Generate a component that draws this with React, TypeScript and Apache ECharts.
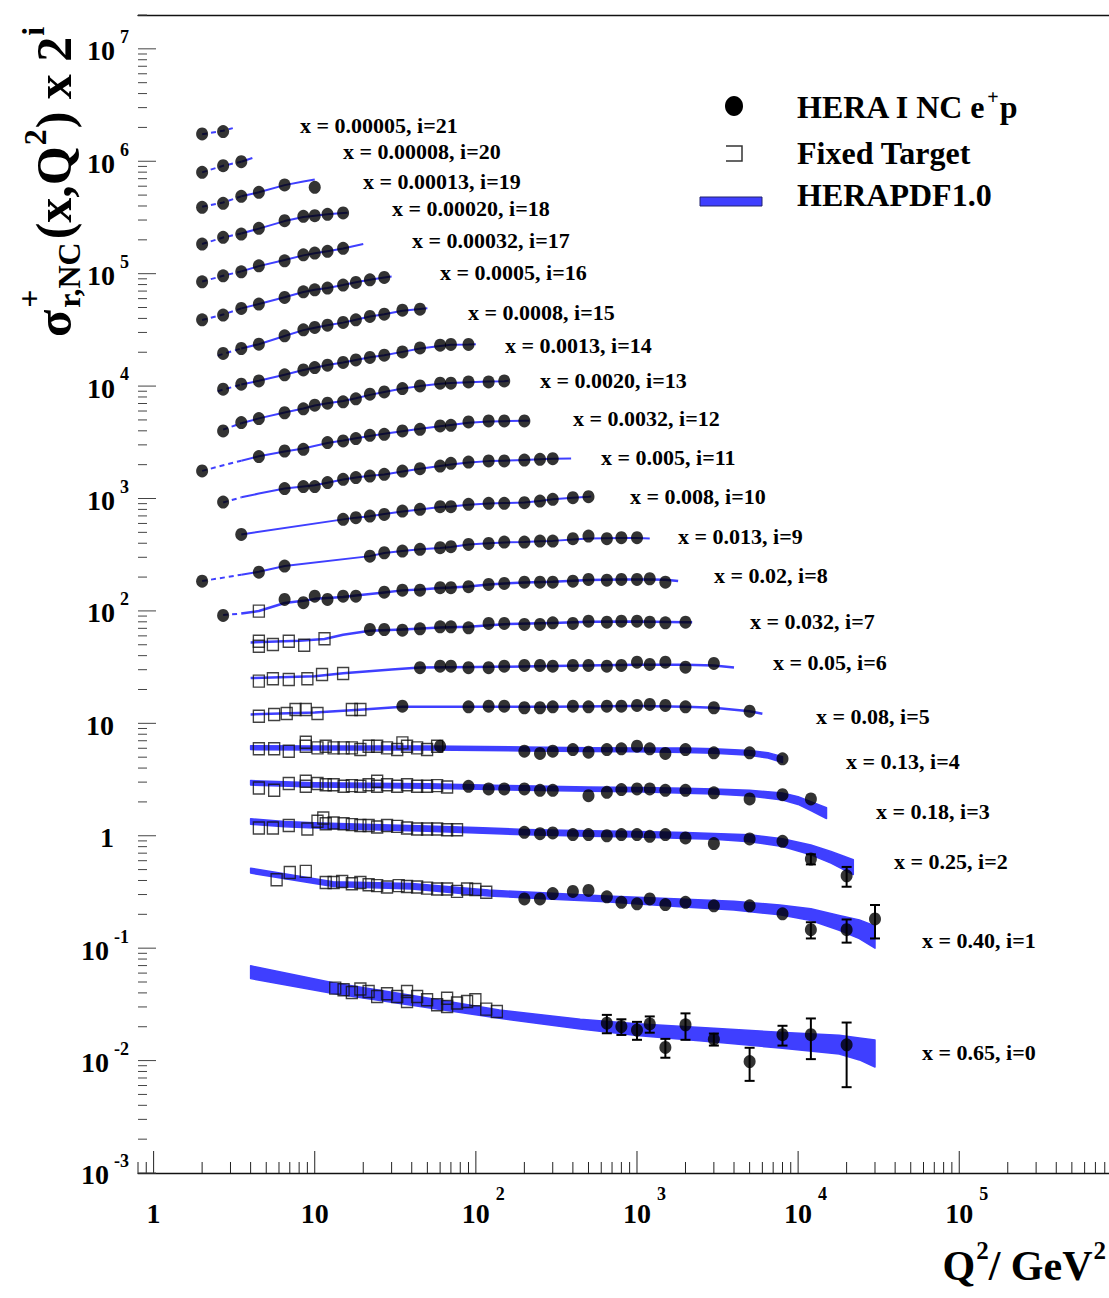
import React, { useEffect, useRef } from 'react';
import * as echarts from 'echarts';

const WIDTH = 1109;
const HEIGHT = 1298;
const SERIF = '"Liberation Serif", "Times New Roman", serif';
const PDF_BLUE = '#3f3fff';
const INK = '#000';

// Axis ranges (Q^2 in GeV^2, sigma_r x 2^i)
const Q2_LO = 0.8;
const Q2_HI = 8.5e5;
const SIG_LO = 1e-3;
const SIG_HI = 2e7;
// fit starts here; the curves below it are extrapolations (dashed)
const Q2_FIT_MIN = 3.5;

// bins, indexed by i (0 .. 21)
const BIN_X = [
  '0.65', '0.40', '0.25', '0.18', '0.13', '0.08', '0.05', '0.032', '0.02', '0.013', '0.008',
  '0.005', '0.0032', '0.0020', '0.0013', '0.0008', '0.0005', '0.00032', '0.00020', '0.00013',
  '0.00008', '0.00005',
];

// HERA I NC e+p reduced cross sections
const HERA_Q2: number[][] = [
  [650, 800, 1000, 1200, 1500, 2000, 3000, 5000, 8000, 12000, 20000],
  [200, 250, 300, 400, 500, 650, 800, 1000, 1200, 1500, 2000, 3000, 5000, 8000, 12000, 20000, 30000],
  [200, 250, 300, 400, 500, 650, 800, 1000, 1200, 1500, 2000, 3000, 5000, 8000, 12000, 20000],
  [90, 120, 150, 200, 250, 300, 500, 650, 800, 1000, 1200, 1500, 2000, 3000, 5000, 8000, 12000],
  [60, 200, 250, 300, 400, 500, 650, 800, 1000, 1200, 1500, 2000, 3000, 5000, 8000],
  [35, 90, 120, 150, 200, 250, 300, 400, 500, 650, 800, 1000, 1200, 1500, 2000, 3000, 5000],
  [45, 60, 70, 90, 120, 150, 200, 250, 300, 400, 500, 650, 800, 1000, 1200, 1500, 2000, 3000],
  [22, 27, 35, 45, 60, 70, 90, 120, 150, 200, 250, 300, 400, 500, 650, 800, 1000, 1200, 1500, 2000],
  [2.7, 6.5, 8.5, 10, 12, 15, 18, 27, 35, 45, 60, 70, 90, 120, 150, 200, 250, 300, 400, 500, 650, 800, 1000, 1200, 1500],
  [2, 4.5, 6.5, 22, 27, 35, 45, 60, 70, 90, 120, 150, 200, 250, 300, 400, 500, 650, 800, 1000],
  [3.5, 15, 18, 22, 27, 35, 45, 60, 70, 90, 120, 150, 200, 250, 300, 400, 500],
  [2.7, 6.5, 8.5, 10, 12, 15, 18, 22, 27, 35, 45, 60, 70, 90, 120, 150, 200, 250, 300],
  [2, 4.5, 6.5, 8.5, 12, 15, 18, 22, 27, 35, 45, 60, 70, 90, 120, 150, 200],
  [2.7, 3.5, 4.5, 6.5, 8.5, 10, 12, 15, 18, 22, 27, 35, 45, 60, 70, 90, 120, 150],
  [2.7, 3.5, 4.5, 6.5, 8.5, 10, 12, 15, 18, 22, 27, 35, 45, 60, 70, 90],
  [2.7, 3.5, 4.5, 6.5, 8.5, 10, 12, 15, 18, 22, 27, 35, 45],
  [2, 2.7, 3.5, 4.5, 6.5, 8.5, 10, 12, 15, 18, 22, 27],
  [2, 2.7, 3.5, 4.5, 6.5, 8.5, 10, 12, 15],
  [2, 2.7, 3.5, 4.5, 6.5, 8.5, 10, 12, 15],
  [2, 2.7, 3.5, 4.5, 6.5, 10],
  [2, 2.7, 3.5],
  [2, 2.7],
];

const HERA_SIGMA: number[][] = [
  [0.0215, 0.0201, 0.0187, 0.0212, 0.0131, 0.0208, 0.0155, 0.0098, 0.017, 0.017, 0.0138],
  [0.137, 0.137, 0.153, 0.16, 0.163, 0.143, 0.128, 0.124, 0.137, 0.122, 0.128, 0.119, 0.119, 0.101, 0.073, 0.073, 0.091],
  [0.268, 0.261, 0.265, 0.256, 0.256, 0.25, 0.256, 0.256, 0.247, 0.256, 0.239, 0.213, 0.234, 0.223, 0.155, 0.11],
  [0.344, 0.326, 0.326, 0.326, 0.317, 0.317, 0.284, 0.304, 0.322, 0.326, 0.326, 0.317, 0.317, 0.301, 0.266, 0.29, 0.266],
  [0.391, 0.353, 0.337, 0.353, 0.365, 0.346, 0.365, 0.371, 0.391, 0.371, 0.337, 0.365, 0.342, 0.342, 0.302],
  [0.444, 0.438, 0.444, 0.444, 0.43, 0.43, 0.438, 0.444, 0.438, 0.444, 0.444, 0.451, 0.46, 0.451, 0.438, 0.43, 0.401],
  [0.488, 0.504, 0.504, 0.488, 0.488, 0.504, 0.511, 0.511, 0.504, 0.511, 0.511, 0.504, 0.511, 0.547, 0.522, 0.547, 0.494, 0.533],
  [0.534, 0.534, 0.526, 0.541, 0.564, 0.564, 0.553, 0.604, 0.604, 0.592, 0.592, 0.613, 0.604, 0.633, 0.62, 0.633, 0.633, 0.62, 0.613, 0.62],
  [0.356, 0.494, 0.462, 0.528, 0.494, 0.528, 0.528, 0.573, 0.598, 0.598, 0.628, 0.628, 0.641, 0.672, 0.686, 0.704, 0.704, 0.704, 0.719, 0.744, 0.734, 0.744, 0.744, 0.755, 0.704],
  [0.359, 0.432, 0.489, 0.6, 0.643, 0.665, 0.689, 0.713, 0.728, 0.763, 0.779, 0.8, 0.8, 0.816, 0.816, 0.857, 0.904, 0.857, 0.875, 0.875],
  [0.468, 0.637, 0.659, 0.681, 0.705, 0.755, 0.782, 0.826, 0.826, 0.866, 0.884, 0.884, 0.897, 0.927, 0.96, 0.994, 1.014],
  [0.454, 0.598, 0.623, 0.623, 0.676, 0.723, 0.749, 0.774, 0.801, 0.857, 0.9, 0.95, 1.004, 1.031, 1.053, 1.053, 1.074, 1.09, 1.105],
  [0.429, 0.576, 0.646, 0.669, 0.768, 0.793, 0.833, 0.891, 0.91, 0.974, 1.008, 1.079, 1.094, 1.171, 1.195, 1.195, 1.195],
  [0.487, 0.578, 0.628, 0.707, 0.766, 0.825, 0.859, 0.885, 0.94, 1.033, 1.083, 1.161, 1.225, 1.295, 1.295, 1.33, 1.33, 1.357],
  [0.573, 0.634, 0.679, 0.768, 0.85, 0.893, 0.936, 0.99, 1.044, 1.097, 1.15, 1.23, 1.335, 1.41, 1.431, 1.431],
  [0.595, 0.659, 0.72, 0.854, 0.966, 1.014, 1.063, 1.124, 1.186, 1.271, 1.332, 1.446, 1.476],
  [0.593, 0.653, 0.749, 0.818, 0.938, 1.053, 1.097, 1.136, 1.208, 1.276, 1.346, 1.414],
  [0.646, 0.731, 0.793, 0.897, 0.994, 1.124, 1.164, 1.205, 1.282],
  [0.7, 0.803, 0.859, 0.966, 1.129, 1.235, 1.25, 1.287, 1.322],
  [0.743, 0.806, 0.931, 1.01, 1.173, 1.119],
  [0.761, 0.872, 0.946],
  [0.835, 0.875],
];

// total uncertainties where they stick out of the marker (0 = hidden)
const HERA_ERR: number[][] = [
  [0.004, 0.0032, 0.0034, 0.0035, 0.0025, 0.0055, 0.0019, 0.0032, 0.0034, 0.0067, 0.008],
  [0, 0, 0, 0, 0, 0, 0, 0, 0, 0, 0, 0, 0, 0, 0.012, 0.017, 0.03],
  [0, 0, 0, 0, 0, 0, 0, 0, 0, 0, 0, 0, 0, 0, 0.016, 0.022],
];

// fixed-target measurements
const FIXED_Q2: number[][] = [
  [13.4, 15.1, 17, 19.2, 21.6, 24.4, 28.1, 32.5, 37.4, 37.4, 43.2, 49.8, 57.5, 66.3, 66.3, 76.4, 88.2, 99.3, 116, 135],
  [5.8, 7, 8.8, 11.7, 13.1, 14.8, 17, 19.2, 21.6, 24.4, 28.1, 33.2, 37.4, 43.2, 49.8, 57.5, 66.3, 76.4, 88.2, 99.3, 116],
  [4.5, 5.5, 6.9, 9, 10.4, 11.3, 11.7, 13.1, 15.1, 17, 19.2, 21.6, 24.4, 28.1, 32.5, 37.4, 43.2, 49.8, 57.5, 66.3, 76.4],
  [4.5, 5.6, 6.9, 8.8, 8.8, 10.4, 11.7, 13.1, 15.1, 17, 19.2, 21.6, 24.4, 24.4, 28.1, 32.5, 37.4, 43.2, 49.8, 57.5, 66.3],
  [4.5, 5.6, 6.9, 8.8, 8.8, 10.4, 11.7, 13.1, 15.1, 17, 19.2, 21.6, 24.4, 28.1, 32.5, 35, 37.4, 43.2, 49.8, 57.5],
  [4.5, 5.6, 6.7, 7.6, 8.8, 10.4, 17, 19.2],
  [4.5, 5.5, 6.9, 9, 11.1, 15],
  [4.5, 4.5, 5.5, 6.9, 8.6, 11.5],
  [4.5],
];

const FIXED_SIGMA: number[][] = [
  [0.0441, 0.0427, 0.0404, 0.0433, 0.0412, 0.0371, 0.0393, 0.0371, 0.0412, 0.0336, 0.0371, 0.0348, 0.0314, 0.0359, 0.0303, 0.0325, 0.0336, 0.0348, 0.0287, 0.0273],
  [0.203, 0.236, 0.241, 0.192, 0.192, 0.196, 0.187, 0.192, 0.183, 0.18, 0.175, 0.18, 0.177, 0.175, 0.171, 0.168, 0.168, 0.16, 0.168, 0.166, 0.157],
  [0.293, 0.293, 0.308, 0.287, 0.336, 0.36, 0.32, 0.325, 0.32, 0.314, 0.308, 0.308, 0.299, 0.308, 0.303, 0.293, 0.287, 0.287, 0.287, 0.283, 0.283],
  [0.333, 0.317, 0.364, 0.381, 0.344, 0.364, 0.356, 0.356, 0.344, 0.349, 0.344, 0.356, 0.344, 0.381, 0.356, 0.344, 0.356, 0.344, 0.344, 0.349, 0.34],
  [0.371, 0.371, 0.353, 0.391, 0.424, 0.378, 0.391, 0.378, 0.378, 0.378, 0.365, 0.391, 0.391, 0.378, 0.365, 0.419, 0.391, 0.378, 0.365, 0.391],
  [0.362, 0.375, 0.382, 0.415, 0.415, 0.382, 0.415, 0.415],
  [0.371, 0.389, 0.384, 0.389, 0.425, 0.434],
  [0.379, 0.42, 0.393, 0.42, 0.387, 0.441],
  [0.389],
];

// HERAPDF1.0 prediction: central value and relative half-width of the band
const PDF_Q2: number[][] = [
  [4, 13, 45, 140, 445, 1000, 3000, 7700, 18000, 24000, 30000],
  [4, 13, 40, 120, 300, 600, 1850, 4000, 7700, 12000, 18000, 24000, 30000],
  [4, 6.5, 10, 20, 50, 100, 200, 500, 1000, 2000, 3000, 5000, 8000, 12000, 16000, 22000],
  [4, 10, 50, 150, 500, 1000, 2000, 3000, 5000, 8000, 10000, 12000, 15000],
  [4, 10, 50, 200, 500, 1000, 2000, 3000, 5000, 6500, 8000],
  [4, 10, 20, 35, 100, 300, 1000, 2000, 3000, 5000, 6000],
  [4, 10, 15, 30, 45, 100, 300, 1000, 2000, 3000, 4000],
  [4, 8, 11.5, 15, 22, 35, 60, 90, 150, 300, 500, 1000, 2000, 2200],
  [2.7, 3.5, 4.5, 6.5, 8.5, 10, 12, 15, 18, 27, 35, 45, 60, 70, 90, 120, 150, 200, 300, 500, 800, 1200, 1500, 1800],
  [2, 3.5, 4.5, 6.5, 22, 27, 35, 45, 60, 70, 90, 120, 150, 200, 250, 300, 400, 500, 650, 800, 1000, 1200],
  [3.5, 15, 18, 22, 27, 35, 45, 60, 70, 90, 120, 150, 200, 250, 300, 400, 500, 520],
  [2.7, 3.5, 4.5, 6.5, 8.5, 10, 12, 15, 18, 22, 27, 35, 45, 60, 70, 90, 120, 150, 200, 250, 300, 390],
  [2, 3.5, 4.5, 6.5, 8.5, 12, 15, 18, 22, 27, 35, 45, 60, 70, 90, 120, 150, 200, 215],
  [2.7, 3.5, 4.5, 6.5, 8.5, 10, 12, 15, 18, 22, 27, 35, 45, 60, 70, 90, 120, 150, 160],
  [2.5, 3.5, 4.5, 6.5, 8.5, 10, 12, 15, 18, 22, 27, 35, 45, 60, 70, 90, 100],
  [2.5, 3.5, 4.5, 6.5, 8.5, 10, 12, 15, 18, 22, 27, 35, 45, 50],
  [2, 2.7, 3.5, 4.5, 6.5, 8.5, 10, 12, 15, 18, 22, 27, 30],
  [2, 2.7, 3.5, 4.5, 6.5, 8.5, 10, 12, 15, 20],
  [2, 2.7, 3.5, 4.5, 6.5, 8.5, 10, 12, 15, 16],
  [2, 2.7, 3.5, 4.5, 6.5, 8.5, 10],
  [2, 2.7, 3.5, 4.1],
  [2, 2.7, 3.1],
];

const PDF_SIGMA: number[][] = [
  [0.0616, 0.0444, 0.0336, 0.026, 0.0212, 0.019, 0.017, 0.0154, 0.0141, 0.013, 0.012],
  [0.245, 0.186, 0.178, 0.155, 0.145, 0.138, 0.127, 0.12, 0.11, 0.1, 0.085, 0.075, 0.0645],
  [0.335, 0.318, 0.31, 0.3, 0.29, 0.28, 0.27, 0.262, 0.258, 0.252, 0.247, 0.238, 0.218, 0.188, 0.162, 0.133],
  [0.37, 0.355, 0.347, 0.335, 0.325, 0.322, 0.315, 0.31, 0.3, 0.28, 0.258, 0.23, 0.2],
  [0.38, 0.378, 0.378, 0.37, 0.365, 0.363, 0.36, 0.355, 0.342, 0.325, 0.298],
  [0.375, 0.39, 0.415, 0.44, 0.44, 0.44, 0.445, 0.44, 0.43, 0.4, 0.38],
  [0.395, 0.41, 0.435, 0.47, 0.49, 0.495, 0.505, 0.52, 0.52, 0.51, 0.49],
  [0.41, 0.425, 0.44, 0.48, 0.52, 0.535, 0.555, 0.565, 0.595, 0.61, 0.625, 0.63, 0.62, 0.618],
  [0.36, 0.37, 0.39, 0.46, 0.48, 0.5, 0.51, 0.52, 0.535, 0.57, 0.595, 0.605, 0.625, 0.63, 0.645, 0.67, 0.685, 0.7, 0.71, 0.735, 0.745, 0.745, 0.74, 0.72],
  [0.36, 0.41, 0.435, 0.49, 0.6, 0.64, 0.665, 0.69, 0.71, 0.725, 0.76, 0.78, 0.795, 0.8, 0.815, 0.82, 0.845, 0.86, 0.865, 0.87, 0.87, 0.86],
  [0.468, 0.637, 0.66, 0.68, 0.71, 0.75, 0.78, 0.82, 0.83, 0.86, 0.88, 0.89, 0.9, 0.93, 0.96, 0.99, 1.01, 1.015],
  [0.45, 0.5, 0.54, 0.6, 0.625, 0.64, 0.675, 0.72, 0.75, 0.78, 0.8, 0.85, 0.9, 0.95, 0.98, 1.02, 1.05, 1.06, 1.075, 1.09, 1.1, 1.11],
  [0.43, 0.53, 0.58, 0.64, 0.68, 0.76, 0.8, 0.84, 0.88, 0.92, 0.97, 1.02, 1.07, 1.1, 1.15, 1.18, 1.19, 1.2, 1.2],
  [0.5, 0.57, 0.63, 0.71, 0.77, 0.82, 0.86, 0.9, 0.95, 1.02, 1.08, 1.16, 1.22, 1.28, 1.3, 1.32, 1.34, 1.35, 1.36],
  [0.55, 0.63, 0.68, 0.77, 0.85, 0.89, 0.94, 0.99, 1.04, 1.1, 1.15, 1.23, 1.32, 1.39, 1.42, 1.43, 1.44],
  [0.57, 0.66, 0.72, 0.85, 0.96, 1.01, 1.06, 1.12, 1.19, 1.27, 1.33, 1.43, 1.48, 1.5],
  [0.59, 0.66, 0.75, 0.82, 0.94, 1.05, 1.1, 1.14, 1.21, 1.28, 1.35, 1.41, 1.44],
  [0.65, 0.73, 0.8, 0.89, 1.01, 1.11, 1.16, 1.21, 1.28, 1.4],
  [0.7, 0.8, 0.87, 0.96, 1.12, 1.22, 1.25, 1.29, 1.32, 1.33],
  [0.75, 0.82, 0.93, 1.01, 1.17, 1.26, 1.31],
  [0.76, 0.87, 0.945, 1.02],
  [0.83, 0.89, 0.94],
];

const PDF_UNC: number[][] = [
  [0.13, 0.11, 0.1, 0.085, 0.1, 0.12, 0.14, 0.16, 0.19, 0.22, 0.27],
  [0.05, 0.05, 0.055, 0.06, 0.06, 0.06, 0.08, 0.09, 0.1, 0.12, 0.15, 0.19, 0.225],
  [0.055, 0.055, 0.055, 0.055, 0.055, 0.055, 0.055, 0.055, 0.055, 0.06, 0.06, 0.07, 0.08, 0.1, 0.12, 0.15],
  [0.045, 0.045, 0.045, 0.045, 0.045, 0.045, 0.05, 0.05, 0.06, 0.07, 0.08, 0.09, 0.11],
  [0.04, 0.04, 0.04, 0.04, 0.04, 0.04, 0.045, 0.045, 0.05, 0.055, 0.06],
];

// where each bin caption sits: [left px, middle px]
const CAPTION_POS: number[][] = [
  [922, 1052], [922, 940], [894, 861], [876, 811], [846, 761], [816, 716], [773, 662], [750, 621],
  [714, 575], [678, 536], [630, 496], [601, 457], [573, 418], [540, 380], [505, 345], [468, 312],
  [440, 272], [412, 240], [392, 208], [363, 181], [343, 151], [300, 125],
];

const ROWS = BIN_X.map((_, i) => i);
const X_LABEL_EXP = [0, 1, 2, 3, 4, 5];
const Y_LABEL_EXP = [-3, -2, -1, 0, 1, 2, 3, 4, 5, 6, 7];

let measureCtx: CanvasRenderingContext2D | null = null;
function textWidth(s: string, size: number): number {
  if (!measureCtx) measureCtx = document.createElement('canvas').getContext('2d');
  if (!measureCtx) return s.length * size * 0.5;
  measureCtx.font = `bold ${size}px ${SERIF}`;
  return measureCtx.measureText(s).width;
}

// bold serif text placed by its alphabetic baseline
function T(x: number, baseline: number, text: string, size: number, align = 'left', fill = INK): any {
  return {
    type: 'text',
    x,
    y: baseline - 0.34 * size,
    silent: true,
    style: {
      text,
      fontSize: size,
      fontWeight: 'bold',
      fontFamily: SERIF,
      fill,
      textAlign: align,
      align,
      textVerticalAlign: 'middle',
      verticalAlign: 'middle',
    },
  };
}

function renderPdf(_params: any, api: any) {
  const i = api.value(2);
  const f = Math.pow(2, i);
  const q = PDF_Q2[i];
  const s = PDF_SIGMA[i];
  const u = PDF_UNC[i] || [];
  const dashed: number[][] = [];
  const up: number[][] = [];
  const lo: number[][] = [];
  q.forEach((qq, k) => {
    const v = s[k] * f;
    const r = u[k] || 0;
    if (qq <= Q2_FIT_MIN) dashed.push(api.coord([qq, v]));
    if (qq >= Q2_FIT_MIN) {
      up.push(api.coord([qq, v * (1 + r)]));
      lo.push(api.coord([qq, v * (1 - r)]));
    }
  });
  const children: any[] = [];
  const lw = i >= 5 && i <= 8 ? 2.5 : 2;
  if (dashed.length > 1) {
    children.push({
      type: 'polyline',
      shape: { points: dashed },
      style: { stroke: PDF_BLUE, lineWidth: 2, lineDash: [5, 4], fill: null },
    });
  }
  if (up.length > 1) {
    if (u.length) {
      children.push({
        type: 'polygon',
        shape: { points: up.concat(lo.slice().reverse()) },
        style: { fill: PDF_BLUE, stroke: PDF_BLUE, lineWidth: 1.5, lineJoin: 'round' },
      });
    } else {
      children.push({
        type: 'polyline',
        shape: { points: up },
        style: { stroke: PDF_BLUE, lineWidth: lw, fill: null, lineJoin: 'round' },
      });
    }
  }
  return { type: 'group', children };
}

function renderErr(_params: any, api: any) {
  const q = api.value(0);
  const v = api.value(1);
  const e = api.value(2);
  const c = api.coord([q, v]);
  const top = api.coord([q, v + e]);
  const bot = api.coord([q, Math.max(v - e, SIG_LO)]);
  const hw = 5;
  const st = { stroke: INK, lineWidth: 2 };
  return {
    type: 'group',
    children: [
      { type: 'line', shape: { x1: c[0], y1: top[1], x2: c[0], y2: bot[1] }, style: st },
      { type: 'line', shape: { x1: c[0] - hw, y1: top[1], x2: c[0] + hw, y2: top[1] }, style: st },
      { type: 'line', shape: { x1: c[0] - hw, y1: bot[1], x2: c[0] + hw, y2: bot[1] }, style: st },
    ],
  };
}

function renderXTick(_params: any, api: any) {
  const p = api.coord([api.value(0), SIG_LO]);
  const len = api.value(2) ? 22 : 11;
  return {
    type: 'line',
    shape: { x1: p[0], y1: p[1], x2: p[0], y2: p[1] - len },
    style: { stroke: '#222', lineWidth: 1 },
  };
}

function renderYTick(_params: any, api: any) {
  const p = api.coord([Q2_LO, api.value(1)]);
  const len = api.value(2) ? 18 : 9;
  return {
    type: 'line',
    shape: { x1: p[0], y1: p[1], x2: p[0] + len, y2: p[1] },
    style: { stroke: '#444', lineWidth: 1 },
  };
}

function renderXLabel(_params: any, api: any) {
  const k = api.value(2);
  const p = api.coord([api.value(0), SIG_LO]);
  const base = p[1] + 50;
  if (k === 0) return T(p[0], base, '1', 28, 'center');
  const children = [T(p[0], base, '10', 28, 'center')];
  if (k >= 2) children.push(T(p[0] + textWidth('10', 28) / 2 + 6, base - 23, String(k), 18));
  return { type: 'group', children };
}

function renderYLabel(_params: any, api: any) {
  const k = api.value(2);
  const p = api.coord([Q2_LO, api.value(1)]);
  const base = p[1] + 11.5;
  const right = 129;
  if (k === 0) return T(114, base, '1', 28, 'right');
  if (k === 1) return T(114, base, '10', 28, 'right');
  const exp = String(k);
  const ew = textWidth(exp, 18);
  return {
    type: 'group',
    children: [T(right - ew - 5, base, '10', 28, 'right'), T(right, base - 17, exp, 18, 'right')],
  };
}

function buildGraphics(): any[] {
  const g: any[] = [];

  // bin captions
  ROWS.forEach((i) => {
    const [x, mid] = CAPTION_POS[i];
    g.push(T(x, mid + 0.34 * 22, `x = ${BIN_X[i]}, i=${i}`, 22));
  });

  // legend
  const lx = 797;
  g.push({ type: 'ellipse', shape: { cx: 734, cy: 106, rx: 9, ry: 10 }, style: { fill: INK }, silent: true });
  const l1 = 'HERA I NC e';
  const w1 = textWidth(l1, 32);
  g.push(T(lx, 118, l1, 32));
  g.push(T(lx + w1 + 1, 104, '+', 20));
  g.push(T(lx + w1 + 2 + textWidth('+', 20), 118, 'p', 32));
  g.push({
    type: 'polyline',
    shape: { points: [[726, 146], [742, 146], [742, 161], [726, 161]] },
    style: { stroke: '#333', lineWidth: 1.5, fill: null },
    silent: true,
  });
  g.push(T(lx, 164, 'Fixed Target', 32));
  g.push({
    type: 'rect',
    shape: { x: 700, y: 197, width: 62, height: 9 },
    style: { fill: PDF_BLUE, stroke: '#22226e', lineWidth: 1 },
    silent: true,
  });
  g.push(T(lx, 206, 'HERAPDF1.0', 32));

  // x-axis title, kept just inside the right edge
  const xb = 1280;
  const parts = [
    { t: 'Q', s: 42, dy: 0, gap: 1 },
    { t: '2', s: 25, dy: -21, gap: 0 },
    { t: '/ GeV', s: 42, dy: 0, gap: 1 },
    { t: '2', s: 25, dy: -21, gap: 0 },
  ];
  const total = parts.reduce((a, p) => a + textWidth(p.t, p.s) + p.gap, 0);
  let tx = WIDTH - 3 - total;
  parts.forEach((p) => {
    g.push(T(tx, xb + p.dy, p.t, p.s));
    tx += textWidth(p.t, p.s) + p.gap;
  });

  // y-axis title, rotated to read bottom-up
  const F = 50;
  const S = 32;
  const kids: any[] = [];
  let cx = 0;
  kids.push(T(cx, 0, 'σ', F));
  cx += textWidth('σ', F) + 2;
  kids.push(T(cx, -31, '+', S));
  kids.push(T(cx, 9, 'r,NC', S));
  cx += Math.max(textWidth('+', S), textWidth('r,NC', S)) + 3;
  kids.push(T(cx, 0, '(x,Q', F));
  cx += textWidth('(x,Q', F) + 1;
  kids.push(T(cx, -25, '2', S));
  cx += textWidth('2', S) + 1;
  kids.push(T(cx, 0, ') x 2', F));
  cx += textWidth(') x 2', F) + 1;
  kids.push(T(cx, -27, 'i', S));
  g.push({ type: 'group', x: 71, y: 337, rotation: Math.PI / 2, children: kids });

  return g;
}

function buildOption() {
  const heraData: number[][] = [];
  const errData: number[][] = [];
  const fixedData: number[][] = [];
  const pdfSeed: number[][] = [];
  ROWS.forEach((i) => {
    const f = Math.pow(2, i);
    const errs = HERA_ERR[i] || [];
    HERA_Q2[i].forEach((q, k) => {
      const v = HERA_SIGMA[i][k] * f;
      heraData.push([q, v]);
      if (errs[k]) errData.push([q, v, errs[k] * f]);
    });
    (FIXED_Q2[i] || []).forEach((q, k) => fixedData.push([q, FIXED_SIGMA[i][k] * f]));
    pdfSeed.push([PDF_Q2[i][0], PDF_SIGMA[i][0] * f, i]);
  });

  const xTicks: number[][] = [];
  for (let k = -1; k <= 6; k++) {
    for (let m = 1; m <= 9; m++) {
      const v = m * Math.pow(10, k);
      if (v >= Q2_LO * 0.999 && v <= Q2_HI) xTicks.push([v, SIG_LO, m === 1 ? 1 : 0]);
    }
  }
  const yTicks: number[][] = [];
  for (let k = -3; k <= 7; k++) {
    for (let m = 1; m <= 9; m++) {
      const v = m * Math.pow(10, k);
      if (v >= SIG_LO && v <= SIG_HI) yTicks.push([Q2_LO, v, m === 1 ? 1 : 0]);
    }
  }

  const axisBase = {
    type: 'log',
    logBase: 10,
    min: Q2_LO,
    max: Q2_HI,
    axisTick: { show: false },
    axisLabel: { show: false },
    splitLine: { show: false },
  };

  return {
    animation: false,
    backgroundColor: '#fff',
    grid: { left: 138, right: 0, top: 15, bottom: 125, containLabel: false },
    xAxis: [
      { ...axisBase, position: 'bottom', axisLine: { show: true, onZero: false, lineStyle: { color: '#111', width: 1.3 } } },
      { ...axisBase, position: 'top', axisLine: { show: true, onZero: false, lineStyle: { color: '#111', width: 1.3 } } },
    ],
    yAxis: {
      type: 'log',
      logBase: 10,
      min: SIG_LO,
      max: SIG_HI,
      axisLine: { show: false },
      axisTick: { show: false },
      axisLabel: { show: false },
      splitLine: { show: false },
    },
    series: [
      { type: 'custom', name: 'HERAPDF1.0', renderItem: renderPdf, data: pdfSeed, z: 1, silent: true },
      {
        type: 'scatter',
        name: 'Fixed Target',
        data: fixedData,
        symbol: 'rect',
        symbolSize: [11, 12],
        itemStyle: { color: 'rgba(255,255,255,0)', borderColor: '#111', borderWidth: 1.4 },
        z: 2,
        silent: true,
      },
      {
        type: 'scatter',
        name: 'HERA I NC e+p',
        data: heraData,
        symbol: 'circle',
        symbolSize: [12, 13],
        itemStyle: { color: INK },
        z: 3,
        silent: true,
      },
      { type: 'custom', name: 'errors', renderItem: renderErr, data: errData, z: 4, silent: true },
      { type: 'custom', name: 'xticks', renderItem: renderXTick, data: xTicks, z: 5, silent: true },
      { type: 'custom', name: 'yticks', renderItem: renderYTick, data: yTicks, z: 5, silent: true },
      {
        type: 'custom',
        name: 'xlabels',
        renderItem: renderXLabel,
        data: X_LABEL_EXP.map((k) => [Math.pow(10, k), SIG_LO, k]),
        z: 5,
        silent: true,
      },
      {
        type: 'custom',
        name: 'ylabels',
        renderItem: renderYLabel,
        data: Y_LABEL_EXP.map((k) => [Q2_LO, Math.pow(10, k), k]),
        z: 5,
        silent: true,
      },
    ],
    graphic: buildGraphics(),
  };
}

export default function App() {
  const ref = useRef<HTMLDivElement>(null);
  useEffect(() => {
    document.body.style.margin = '0';
    if (!ref.current) return;
    const chart = echarts.init(ref.current, null, { renderer: 'svg' });
    chart.setOption(buildOption() as any);
    return () => chart.dispose();
  }, []);
  return <div ref={ref} style={{ width: WIDTH, height: HEIGHT, background: '#fff' }} />;
}
